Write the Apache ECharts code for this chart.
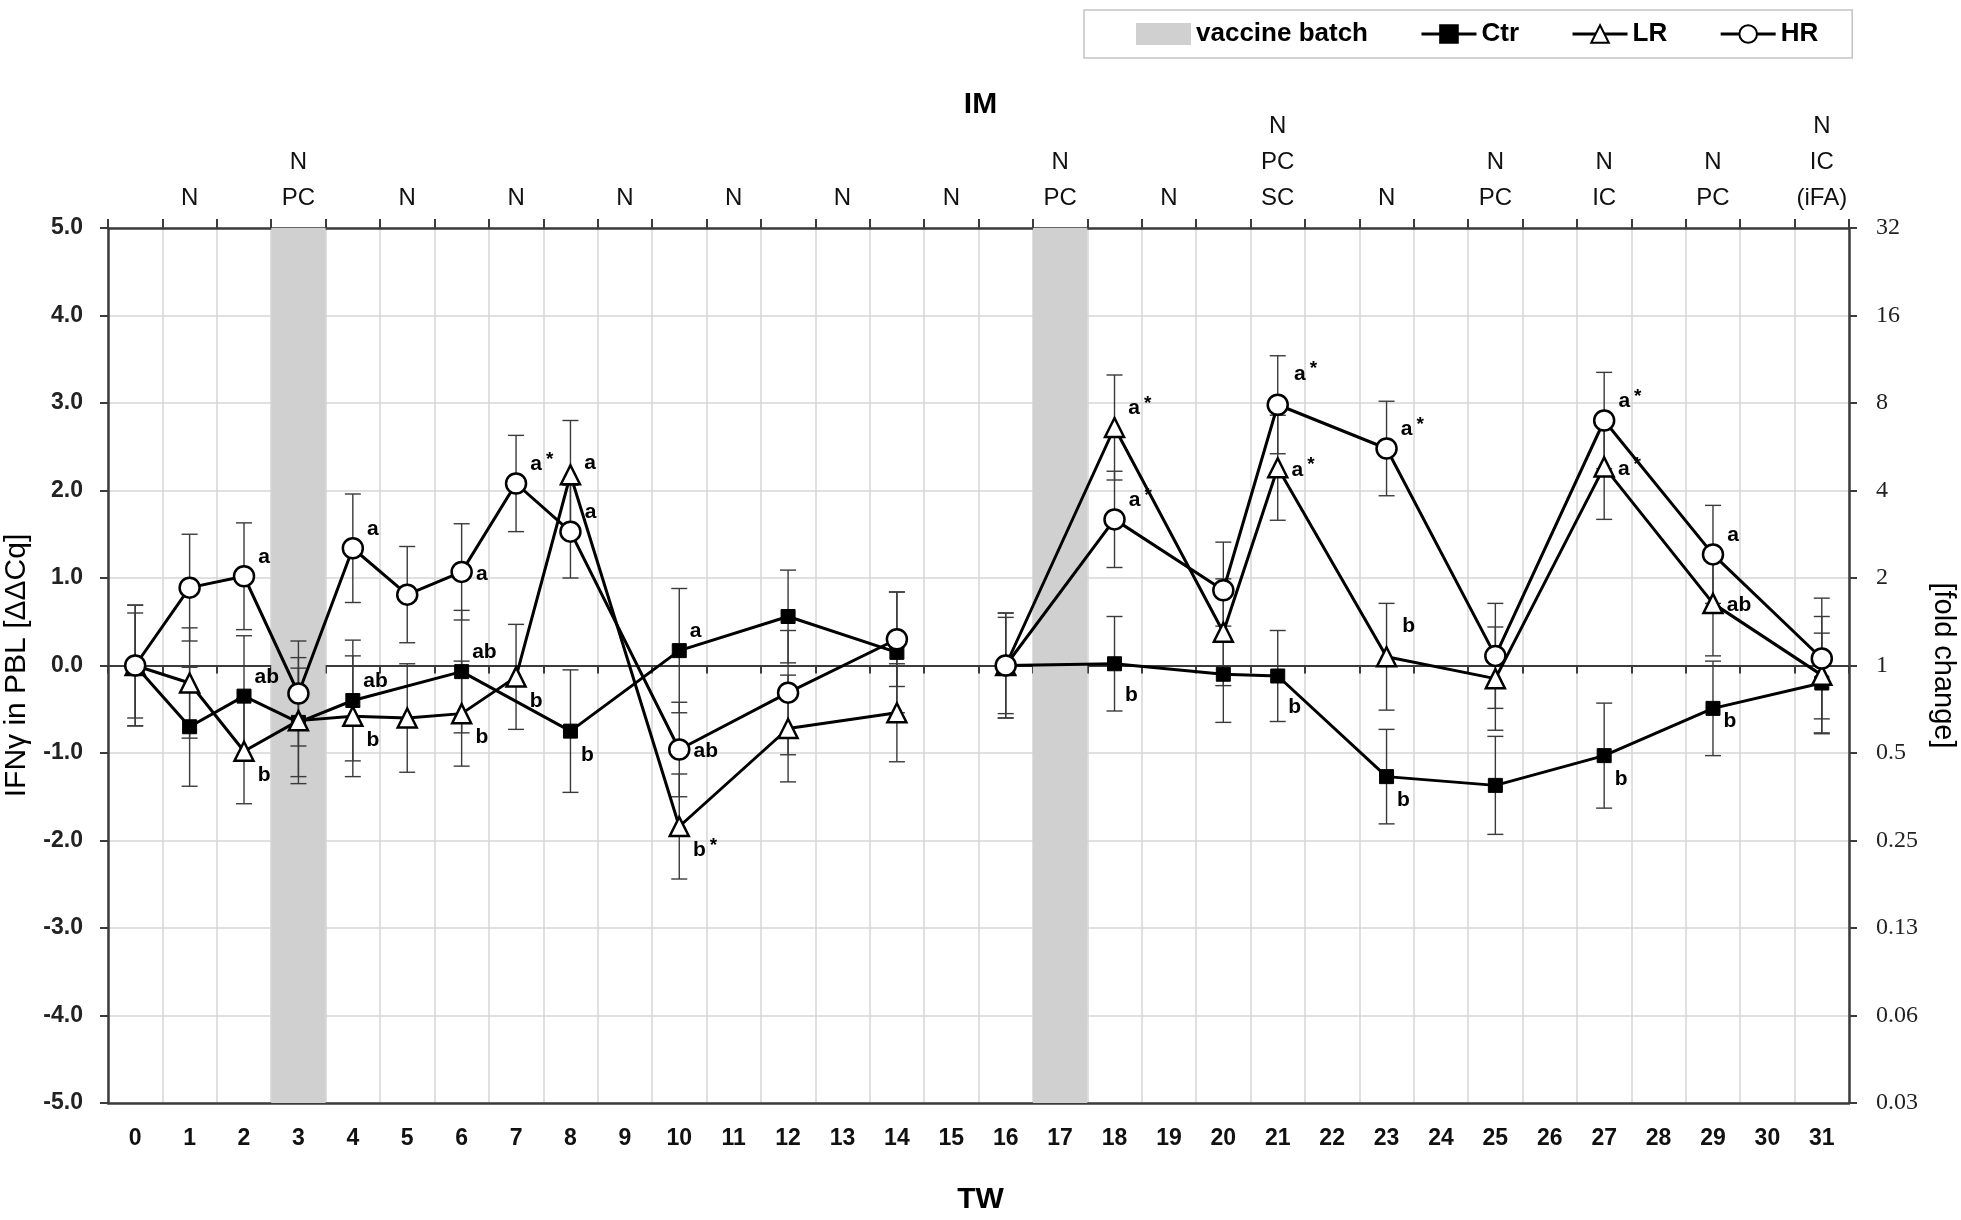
<!DOCTYPE html>
<html>
<head>
<meta charset="utf-8">
<script src="https://cdn.jsdelivr.net/npm/echarts@6/dist/echarts.min.js"></script>
<style>
  html, body { margin: 0; padding: 0; background: #fff; }
  #chart { width: 1961px; height: 1220px; }
</style>
</head>
<body>
<div id="chart"></div>
<script>
// ---------------- data ----------------
const categories = Array.from({length: 32}, (_, i) => String(i));
const weeks = [0,1,2,3,4,5,6,7,8,10,12,14,16,18,20,21,23,25,27,29,31];
const lineBreakWeek = 15;            // no sampling: the lines are interrupted here
const vaccineWeeks = [3, 17];

const ctrValues = [0.00,-0.70,-0.35,-0.65,-0.40,null,-0.07,null,-0.75,0.17,0.56,0.15,0.00,0.02,-0.10,-0.12,-1.27,-1.37,-1.03,-0.49,-0.20];
const ctrErrors = [0.69,0.68,0.69,0.62,0.69,null,0.70,null,0.70,0.71,0.53,0.69,0.60,0.54,0.55,0.52,0.54,0.56,0.60,0.54,0.57];
const lrValues  = [0.00,-0.20,-0.98,-0.63,-0.58,-0.60,-0.55,-0.13,2.18,-1.84,-0.72,-0.54,0.00,2.72,0.38,2.26,0.10,-0.15,2.27,0.71,-0.11];
const lrErrors  = [0.60,0.63,0.60,0.72,0.69,0.62,0.60,0.60,0.62,0.60,0.61,0.56,0.55,0.60,0.61,0.60,0.61,0.59,0.60,0.60,0.67];
const hrValues  = [0.00,0.89,1.02,-0.32,1.34,0.81,1.07,2.08,1.53,-0.96,-0.31,0.30,0.00,1.67,0.86,2.98,2.48,0.11,2.80,1.27,0.08];
const hrErrors  = [0.69,0.61,0.61,0.60,0.62,0.55,0.55,0.55,0.53,0.54,0.71,0.54,0.60,0.55,0.55,0.56,0.54,0.60,0.55,0.56,0.69];

const ctrSig = ['','','ab','','ab','','ab','','b','a','','','','b','','b','b','','b','b',''];
const lrSig  = ['','','b','','b','','b','b','a','b*','','','','a*','','a*','b','','a*','ab',''];
const hrSig  = ['','','a','','a','','a','a*','a','ab','','','','a*','','a*','a*','','a*','a',''];

const topLabels = ['', 'N', '', 'N\nPC', '', 'N', '', 'N', '', 'N', '', 'N', '', 'N', '', 'N', '',
  'N\nPC', '', 'N', '', 'N\nPC\nSC', '', 'N', '', 'N\nPC', '', 'N\nIC', '', 'N\nPC', '', 'N\nIC\n(iFA)'];
const leftTickLabels = ['-5.0','-4.0','-3.0','-2.0','-1.0','0.0','1.0','2.0','3.0','4.0','5.0'];
const foldTickLabels = ['0.03','0.06','0.13','0.25','0.5','1','2','4','8','16','32'];

// ---------------- styles (label placement per point) ----------------
const ctrPlace = ['','','u','','u','','u','','d','u','','','','dd','','dd','d','','d','rd',''];
const lrPlace  = ['','','d','','d','','d','d','u2','d','','','','u','','r','uu','','r','r',''];
const hrPlace  = ['','','u','','u','','r','u','u','r','','','','u','','uu','u','','u','u',''];
const placeOffset = { u: [0, -19], u2: [0, -12], uu: [2, -31], r: [0, 2], rd: [0, 13], d: [0, 24], dd: [0, 31] };

const FONT = "'Liberation Sans', Arial, sans-serif";
const NARROW = "'Liberation Sans Narrow', 'Liberation Sans', Arial, sans-serif";

function lineData(values, sig, place) {
  const out = [];
  weeks.forEach((w, i) => {
    if (w > lineBreakWeek && (i === 0 || weeks[i - 1] < lineBreakWeek)) {
      out.push({ value: [lineBreakWeek, '-'] });
    }
    if (values[i] === null) return;
    const item = { value: [w, values[i]] };
    if (sig[i]) {
      item.label = {
        show: true,
        position: 'right',
        distance: 3,
        offset: placeOffset[place[i]] || [0, 0],
        formatter: sig[i].replace('*', '{s|*}'),
        fontFamily: FONT, fontWeight: 'bold', fontSize: 21, color: '#000',
        rich: { s: { fontFamily: FONT, fontSize: 19, color: '#000', padding: [0, 0, 9, 4] } }
      };
    }
    out.push(item);
  });
  return out;
}

function errData(values, errors) {
  const out = [];
  weeks.forEach((w, i) => {
    if (values[i] === null) return;
    out.push([w, values[i] - errors[i], values[i] + errors[i]]);
  });
  return out;
}

function renderErr(params, api) {
  const lo = api.coord([api.value(0), api.value(1)]);
  const hi = api.coord([api.value(0), api.value(2)]);
  const hw = 8;
  const st = { stroke: '#3a3a3a', lineWidth: 1.4 };
  return {
    type: 'group',
    children: [
      { type: 'line', shape: { x1: lo[0], y1: lo[1], x2: hi[0], y2: hi[1] }, style: st },
      { type: 'line', shape: { x1: lo[0] - hw, y1: lo[1], x2: lo[0] + hw, y2: lo[1] }, style: st },
      { type: 'line', shape: { x1: hi[0] - hw, y1: hi[1], x2: hi[0] + hw, y2: hi[1] }, style: st }
    ]
  };
}

const vaccineData = categories.map((c, i) => vaccineWeeks.includes(i) ? 1 : '-');

const chart = echarts.init(document.getElementById('chart'), null, { renderer: 'canvas' });

const darkAxis = { color: '#3c3c3c', width: 2.5 };
const gridLine = { show: true, lineStyle: { color: '#d6d6d6', width: 1.5 } };

const option = {
  animation: false,
  backgroundColor: '#fff',
  title: [
    { text: 'IM', left: 'center', top: 85, textStyle: { fontFamily: FONT, fontWeight: 'bold', fontSize: 30, color: '#000' } },
    { text: 'TW', left: 'center', top: 1180, textStyle: { fontFamily: FONT, fontWeight: 'bold', fontSize: 30, color: '#000' } }
  ],
  legend: {
    data: [{ name: 'vaccine batch', icon: 'rect' }, 'Ctr', 'LR', 'HR'],
    left: 1084, top: 10,
    itemWidth: 55, itemHeight: 22, itemGap: 52,
    padding: [11, 34, 11, 52],
    borderColor: '#c4c4c4', borderWidth: 1.5,
    lineStyle: { width: 3, color: '#000' },
    textStyle: { fontFamily: FONT, fontWeight: 'bold', fontSize: 26, color: '#000' }
  },
  grid: { left: 108, right: 112, top: 228, bottom: 117, containLabel: false, outerBoundsMode: 'none' },
  xAxis: [
    {
      type: 'category', data: categories, position: 'bottom',
      axisLine: { onZero: false, lineStyle: darkAxis },
      axisTick: { show: false },
      axisLabel: { interval: 0, margin: 24, fontFamily: FONT, fontWeight: 'bold', fontSize: 23, color: '#111' },
      splitLine: { show: true, interval: 0, lineStyle: { color: '#d6d6d6', width: 1.5 } }
    },
    {
      type: 'category', data: categories, position: 'bottom',
      axisLine: { onZero: true, onZeroAxisIndex: 0, lineStyle: { color: '#3c3c3c', width: 2 } },
      axisTick: { show: true, interval: 0, length: 8, lineStyle: { color: '#3c3c3c', width: 2 } },
      axisLabel: { show: false },
      splitLine: { show: false }
    },
    {
      type: 'category', data: categories, position: 'top',
      axisLine: { onZero: false, lineStyle: darkAxis },
      axisTick: { show: true, interval: 0, length: 9, lineStyle: { color: '#3c3c3c', width: 2 } },
      axisLabel: {
        interval: 0, margin: 12, lineHeight: 36,
        fontFamily: NARROW, fontSize: 24, color: '#111',
        formatter: (v, i) => topLabels[i]
      },
      splitLine: { show: false }
    }
  ],
  yAxis: [
    {
      type: 'value', min: -5, max: 5, interval: 1, position: 'left',
      axisLine: { show: true, onZero: false, lineStyle: darkAxis },
      axisTick: { show: true, length: 8, lineStyle: { color: '#3c3c3c', width: 2 } },
      axisLabel: { margin: 25, fontFamily: FONT, fontWeight: 'bold', fontSize: 23, color: '#222',
        formatter: (v) => leftTickLabels[Math.round(v) + 5] },
      splitLine: gridLine,
      name: 'IFNγ in PBL [ΔΔCq]', nameLocation: 'middle', nameGap: 76, nameRotate: 90,
      nameTextStyle: { fontFamily: FONT, fontSize: 30, color: '#000' }
    },
    {
      type: 'value', min: -5, max: 5, interval: 1, position: 'right',
      axisLine: { show: true, onZero: false, lineStyle: darkAxis },
      axisTick: { show: true, length: 8, lineStyle: { color: '#3c3c3c', width: 2 } },
      axisLabel: { margin: 27, fontFamily: "'Liberation Serif', 'DejaVu Serif', serif", fontSize: 24, color: '#222',
        formatter: (v) => foldTickLabels[Math.round(v) + 5] },
      splitLine: { show: false },
      name: '[fold change]', nameLocation: 'middle', nameGap: 64, nameRotate: -90,
      nameTextStyle: { fontFamily: FONT, fontSize: 29, color: '#000' }
    },
    { type: 'value', min: 0, max: 1, show: false }
  ],
  series: [
    {
      name: 'vaccine batch', type: 'bar', xAxisIndex: 0, yAxisIndex: 2,
      data: vaccineData, barWidth: '100%', barGap: '0%',
      itemStyle: { color: '#d0d0d0' }, z: 1, silent: true
    },
    { name: 'Ctr err', type: 'custom', xAxisIndex: 0, yAxisIndex: 0, renderItem: renderErr,
      data: errData(ctrValues, ctrErrors), encode: { x: 0, y: [1, 2] }, z: 3, silent: true },
    { name: 'LR err', type: 'custom', xAxisIndex: 0, yAxisIndex: 0, renderItem: renderErr,
      data: errData(lrValues, lrErrors), encode: { x: 0, y: [1, 2] }, z: 3, silent: true },
    { name: 'HR err', type: 'custom', xAxisIndex: 0, yAxisIndex: 0, renderItem: renderErr,
      data: errData(hrValues, hrErrors), encode: { x: 0, y: [1, 2] }, z: 3, silent: true },
    {
      name: 'Ctr', type: 'line', xAxisIndex: 0, yAxisIndex: 0,
      data: lineData(ctrValues, ctrSig, ctrPlace),
      symbol: 'rect', symbolSize: 14, showAllSymbol: true,
      lineStyle: { color: '#000', width: 3 },
      itemStyle: { color: '#000', borderColor: '#000', borderWidth: 1 }, z: 5
    },
    {
      name: 'LR', type: 'line', xAxisIndex: 0, yAxisIndex: 0,
      data: lineData(lrValues, lrSig, lrPlace),
      symbol: 'triangle', symbolSize: 19, showAllSymbol: true,
      lineStyle: { color: '#000', width: 3 },
      itemStyle: { color: '#fff', borderColor: '#000', borderWidth: 2.5 }, z: 6
    },
    {
      name: 'HR', type: 'line', xAxisIndex: 0, yAxisIndex: 0,
      data: lineData(hrValues, hrSig, hrPlace),
      symbol: 'circle', symbolSize: 20, showAllSymbol: true,
      lineStyle: { color: '#000', width: 3 },
      itemStyle: { color: '#fff', borderColor: '#000', borderWidth: 2.5 }, z: 7
    }
  ]
};

chart.setOption(option);
</script>
</body>
</html>
